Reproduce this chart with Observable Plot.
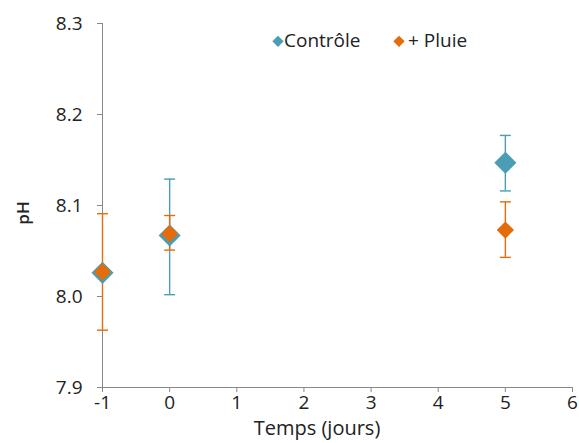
<!DOCTYPE html>
<html><head><meta charset="utf-8">
<script src="https://cdn.jsdelivr.net/npm/d3@7"></script>
<script src="https://cdn.jsdelivr.net/npm/@observablehq/plot@0.6"></script>
<style>
body{margin:0;background:#fff;font-family:"Open Sans",sans-serif;color:#222}
#wrap{position:relative;width:579px;height:443px;overflow:hidden}
.lbl{position:absolute;color:#222;white-space:nowrap;line-height:1}
.dia{position:absolute;transform:translate(-50%,-50%) rotate(45deg)}
</style></head>
<body><div id="wrap"></div>
<script>
const days = [-1, 0, 5];
const series = ["Contrôle", "+ Pluie"];
const colors = ["#4b9db3", "#e46c0a"];
const controleMean = [8.026, 8.067, 8.147];
const controleLow  = [null, 8.002, 8.116];
const controleHigh = [null, 8.129, 8.177];
const pluieMean = [8.027, 8.069, 8.073];
const pluieLow  = [7.963, 8.051, 8.043];
const pluieHigh = [8.091, 8.089, 8.104];
const xTicks = [-1, 0, 1, 2, 3, 4, 5, 6];
const yTicks = [7.9, 8.0, 8.1, 8.2, 8.3];

const tables = [
  days.map((d, i) => ({x: d, y: controleMean[i], lo: controleLow[i], hi: controleHigh[i]})),
  days.map((d, i) => ({x: d, y: pluieMean[i], lo: pluieLow[i], hi: pluieHigh[i]}))
];
const capSymbol = {draw(ctx) { ctx.moveTo(-5.5, 0); ctx.lineTo(5.5, 0); }};
const sizes = [9, 7.8];

const marks = [
  Plot.ruleY([7.9], {stroke: "#888"}),
  Plot.ruleX([-1], {stroke: "#888"}),
  Plot.axisY({ticks: yTicks, tickFormat: d3.format(".1f"), tickSize: 5, tickPadding: 15, label: null, fontSize: 19, stroke: "#888", color: "#222"}),
  Plot.axisX({ticks: xTicks, tickFormat: d => String(d), tickSize: 5, tickPadding: 3, label: null, fontSize: 19, stroke: "#888", color: "#222"})
];
tables.forEach((t, s) => {
  const e = t.filter(d => d.lo != null);
  marks.push(Plot.ruleX(e, {x: "x", y1: "lo", y2: "hi", stroke: colors[s], strokeWidth: 1.4}));
  marks.push(Plot.dot(e, {x: "x", y: "lo", symbol: capSymbol, stroke: colors[s], strokeWidth: 1.4, fill: "none"}));
  marks.push(Plot.dot(e, {x: "x", y: "hi", symbol: capSymbol, stroke: colors[s], strokeWidth: 1.4, fill: "none"}));
});
tables.forEach((t, s) => {
  marks.push(Plot.dot(t, {x: "x", y: "y", symbol: "diamond2", r: sizes[s], fill: colors[s], stroke: s === 0 ? colors[s] : "none", ariaLabel: "diamonds"}));
});

const chart = Plot.plot({
  width: 579, height: 443,
  marginLeft: 102, marginRight: 7, marginTop: 23, marginBottom: 56,
  style: {fontFamily: "'Open Sans', sans-serif", fontSize: "19px", background: "#fff"},
  x: {domain: [-1, 6], axis: null},
  y: {domain: [7.9, 8.3], axis: null},
  marks
});
const wrap = document.getElementById("wrap");
wrap.appendChild(chart);
chart.querySelectorAll('g[aria-label="diamonds"]').forEach(g => g.style.filter = "drop-shadow(2px 2px 2px rgba(0,0,0,0.45))");

function addLabel(text, css) {
  const el = document.createElement("div");
  el.className = "lbl"; el.textContent = text; Object.assign(el.style, css); wrap.appendChild(el); return el;
}
addLabel("Temps (jours)", {left: "317px", top: "418px", fontSize: "20px", transform: "translateX(-50%)"});
addLabel("pH", {left: "22px", top: "213px", fontSize: "17px", fontWeight: "600", transform: "translate(-50%,-50%) rotate(-90deg)"});

const legDia = [[277.5, 41, 7.5], [398.5, 41, 7.5]];
const legText = [284, 408];
series.forEach((name, s) => {
  const d = document.createElement("div");
  d.className = "dia";
  Object.assign(d.style, {left: legDia[s][0] + "px", top: legDia[s][1] + "px", width: legDia[s][2] + "px", height: legDia[s][2] + "px", background: colors[s]});
  wrap.appendChild(d);
  addLabel(name, {left: legText[s] + "px", top: "31px", fontSize: "19px"});
});
</script></body></html>
